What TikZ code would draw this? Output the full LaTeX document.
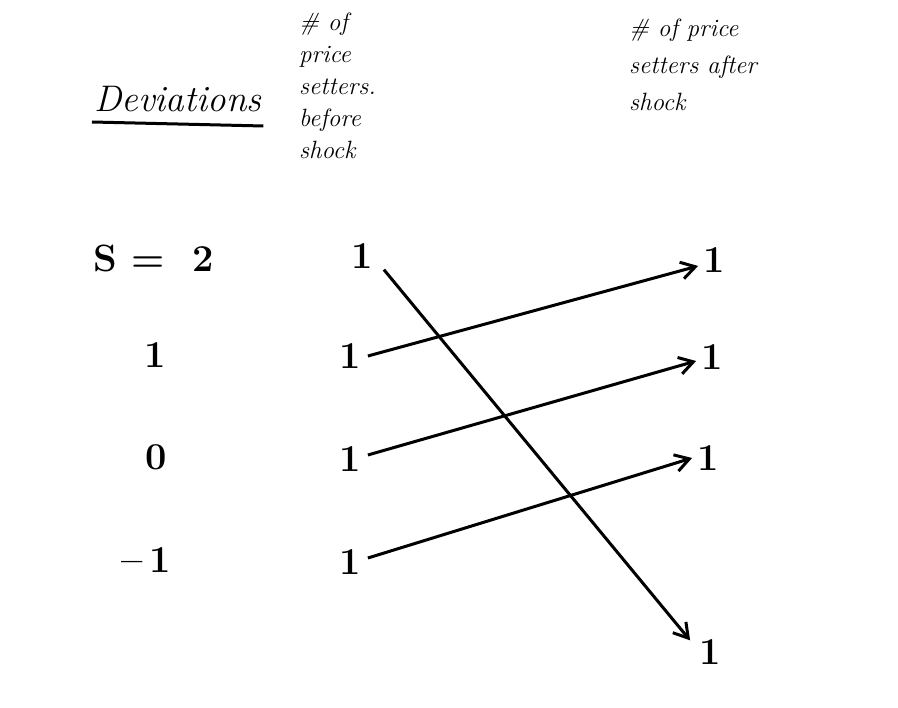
\documentclass[tikz,border=0pt]{standalone}
\usetikzlibrary{arrows.meta}
\begin{document}
\begin{tikzpicture}[x=1pt,y=-1pt,
  hand/.style={font=\itshape\fontsize{25}{32}\selectfont, align=left, inner sep=1pt},
  big/.style={font=\itshape\fontsize{37}{40}\selectfont, inner sep=2pt},
  num/.style={font=\bfseries\fontsize{38}{44}\selectfont, inner sep=3pt},
  arr/.style={line width=3pt, -{Straight Barb[length=14pt,width=17pt,line width=3pt]}},
  uline/.style={line width=3pt}
]
\useasboundingbox[fill=white] (0,0) rectangle (898,708);
% headers
\node[big, anchor=base west] (dev) at (92,112) {Deviations};
\draw[uline] ([yshift=-10pt]dev.base west) -- ([yshift=-14pt]dev.base east);
\node[hand, anchor=north west] (h1) at (298,12) {\# of\\price\\setters.\\before\\shock};
\node[hand, anchor=north west, font=\itshape\fontsize{25}{37}\selectfont] (h2) at (628,18) {\# of price\\setters after\\shock};
% row labels
\node[num, anchor=west] (s) at (90,258) {S =\ \ 2};
\node[num] (l1) at (155,355) {1};
\node[num] (l0) at (156,457) {0};
\node[num] (lm) at (146,560) {--\,1};
% before column
\node[num] (b0) at (362,256) {1};
\node[num] (b1) at (350,356) {1};
\node[num] (b2) at (350,459) {1};
\node[num] (b3) at (350,562) {1};
% after column
\node[num] (a0) at (714,260) {1};
\node[num] (a1) at (712,357) {1};
\node[num] (a2) at (708,458) {1};
\node[num] (a3) at (710,652) {1};
% arrows
\draw[arr] ([xshift=8pt,yshift=2pt]b0.south east) -- ([xshift=-6pt,yshift=-4pt]a3.north west);
\draw[arr] ([xshift=4pt]b1.east) -- ([xshift=-2pt,yshift=-6pt]a0.west);
\draw[arr] ([xshift=4pt,yshift=4pt]b2.east) -- ([xshift=-2pt,yshift=-4pt]a1.west);
\draw[arr] ([xshift=4pt,yshift=4pt]b3.east) -- ([xshift=-2pt,yshift=0pt]a2.west);
\end{tikzpicture}
\end{document}
